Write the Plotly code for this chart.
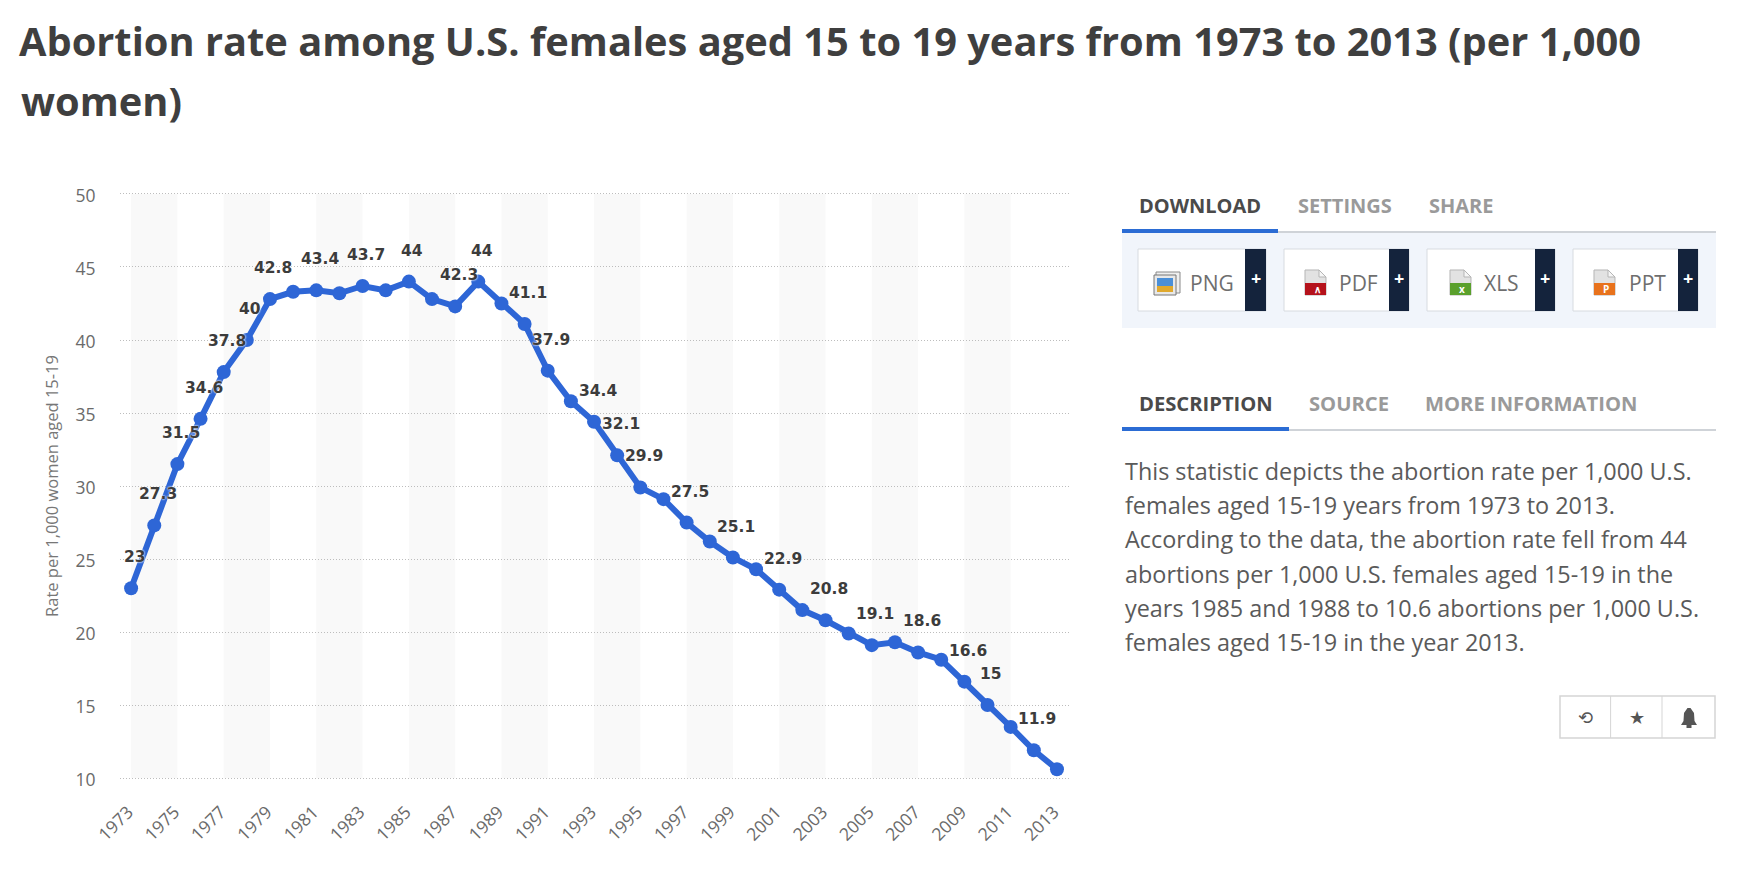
import plotly.graph_objects as go

# ---------- data ----------
years = list(range(1973, 2014))
rates = [23, 27.3, 31.5, 34.6, 37.8, 40, 42.8, 43.3, 43.4, 43.2,
         43.7, 43.4, 44, 42.8, 42.3, 44, 42.5, 41.1, 37.9, 35.8,
         34.4, 32.1, 29.9, 29.1, 27.5, 26.2, 25.1, 24.3, 22.9, 21.5,
         20.8, 19.9, 19.1, 19.3, 18.6, 18.1, 16.6, 15, 13.5, 11.9, 10.6]
labelled_years = [1973, 1974, 1975, 1976, 1977, 1978, 1979, 1981, 1983, 1985,
                  1987, 1988, 1990, 1991, 1993, 1994, 1995, 1997, 1999, 2001,
                  2003, 2005, 2007, 2009, 2010, 2012]
band_starts = list(range(1973, 2013, 4))

title_line1 = "Abortion rate among U.S. females aged 15 to 19 years from 1973 to 2013 (per 1,000"
title_line2 = "women)"
y_title = "Rate per 1,000 women aged 15-19"
description = [
    "This statistic depicts the abortion rate per 1,000 U.S.",
    "females aged 15-19 years from 1973 to 2013.",
    "According to the data, the abortion rate fell from 44",
    "abortions per 1,000 U.S. females aged 15-19 in the",
    "years 1985 and 1988 to 10.6 abortions per 1,000 U.S.",
    "females aged 15-19 in the year 2013.",
]

# ---------- page geometry ----------
W, H = 1744, 890
FONT = "Open Sans"
BLUE = "#2e66d6"


def px(x):
    return x / W


def py(y):
    return 1 - y / H


annotations = []
shapes = []


def text(x, y, s, size, color, bold=False, anchor="left", family=FONT):
    annotations.append(dict(
        xref="paper", yref="paper", x=px(x), y=py(y), text=f"<b>{s}</b>" if bold else s,
        showarrow=False, xanchor=anchor, yanchor="middle",
        font=dict(family=family, size=size, color=color)))


def rect(x0, y0, x1, y1, fill, line=None, width=1):
    shapes.append(dict(type="rect", xref="paper", yref="paper", x0=px(x0), x1=px(x1),
                       y0=py(y0), y1=py(y1), fillcolor=fill,
                       line=dict(color=line or fill, width=width if line else 0)))


def poly(points, fill, line=None):
    d = "M " + " L ".join(f"{px(a):.5f},{py(b):.5f}" for a, b in points) + " Z"
    shapes.append(dict(type="path", xref="paper", yref="paper", path=d, fillcolor=fill,
                       line=dict(color=line or fill, width=1 if line else 0)))


# alternating plot bands
for start in band_starts:
    shapes.append(dict(type="rect", xref="x", yref="paper", x0=start, x1=start + 2,
                       y0=py(778), y1=py(194), fillcolor="#f9f9f9",
                       line=dict(width=0), layer="below"))

# value labels
for yr in labelled_years:
    v = rates[years.index(yr)]
    annotations.append(dict(
        x=yr, y=v, xref="x", yref="y", text=f"<b>{v:g}</b>", showarrow=False,
        xshift=3.5, yshift=31, xanchor="center", yanchor="middle",
        font=dict(family="DejaVu Sans", size=15.5, color="#3c3c3c",
                  shadow="0px 0px 2px #fff, 0px 0px 2px #fff")))

# title second line
text(19, 101, title_line2, 39.8, "#3f3f3f", bold=True)

# download tabs
for s, x, c in [("DOWNLOAD", 1137, "#4a4a4a"), ("SETTINGS", 1296, "#9a9a9a"), ("SHARE", 1427, "#9a9a9a")]:
    text(x, 205, s, 20, c, bold=True)
rect(1122, 231, 1716, 233, "#cfd3d8")
rect(1122, 229, 1278, 233, "#2b6cd4")
rect(1122, 233, 1716, 328, "#f1f5fb")

# download buttons
buttons = [("PNG", 1138, 1245, 1266, "#e0a92e", 16), ("PDF", 1284, 1389, 1409, "#b5121b", 21),
           ("XLS", 1427, 1535, 1555, "#5aa02c", 23), ("PPT", 1573, 1678, 1698, "#e8721c", 21)]
for name, x0, xm, x1, col, icon_dx in buttons:
    rect(x0, 249, x1, 311, "#ffffff", "#d7dbe0", 1)
    rect(xm, 249, x1, 311, "#14233c")
    text(xm + (x1 - xm) / 2, 278, "+", 18, "#ffffff", bold=True, anchor="center")
    text(x0 + 74, 283, name, 21, "#6e6e6e", anchor="center")
    ix = x0 + icon_dx
    if name == "PNG":
        rect(ix + 2, 272, ix + 26, 293, "#efefef", "#8a8a8a", 1)
        rect(ix, 275, ix + 22, 295, "#e8e8e8", "#777777", 1)
        rect(ix + 3, 278, ix + 19, 286, "#4a8fd8")
        rect(ix + 3, 286, ix + 19, 292, col)
    else:
        poly([(ix, 270), (ix + 14, 270), (ix + 21, 277), (ix + 21, 295), (ix, 295)], "#e2e2e2", "#b5b5b5")
        rect(ix, 283, ix + 21, 295, col)
        poly([(ix + 14, 270), (ix + 21, 277), (ix + 14, 277)], "#f6f6f6", "#b5b5b5")
        glyph = {"PDF": "\u2227", "XLS": "x", "PPT": "P"}[name]
        text(ix + 12, 289.5, glyph, 10, "#ffffff", bold=True, anchor="center")

# description tabs
for s, x, c in [("DESCRIPTION", 1137, "#4a4a4a"), ("SOURCE", 1307, "#9a9a9a"), ("MORE INFORMATION", 1423, "#9a9a9a")]:
    text(x, 403, s, 20.2, c, bold=True)
rect(1122, 429, 1716, 431, "#cfd3d8")
rect(1122, 427, 1289, 431, "#2b6cd4")

# description paragraph
for i, line in enumerate(description):
    text(1123, 471 + i * 34.2, line, 23.4, "#5a5a5a")

# bottom-right icon group
shapes.append(dict(type="rect", xref="paper", yref="paper", x0=px(1560), x1=px(1715), y0=py(696), y1=py(738),
                   fillcolor="#ffffff", line=dict(color="#d5d5d5", width=1.5)))
for x in (1610.6, 1662):
    rect(x - 0.5, 696, x + 0.5, 738, "#d5d5d5")
text(1585, 717, "\u27f2", 18, "#555555", anchor="center", family="DejaVu Sans")
text(1637, 717, "\u2605", 18, "#555555", anchor="center", family="DejaVu Sans")
bx = 1689
poly([(bx - 1.5, 708), (bx + 1.5, 708), (bx + 5, 713), (bx + 5.5, 721), (bx + 8, 725), (bx - 8, 725),
      (bx - 5.5, 721), (bx - 5, 713)], "#555555")
rect(bx - 2.5, 725, bx + 2.5, 728, "#555555")

# ---------- figure ----------
fig = go.Figure(go.Scatter(
    x=years, y=rates, mode="lines+markers",
    line=dict(color=BLUE, width=6),
    marker=dict(color=BLUE, size=14),
    hoverinfo="x+y", cliponaxis=False, showlegend=False))

fig.update_layout(
    width=W, height=H, autosize=False,
    margin=dict(l=0, r=0, t=0, b=0),
    paper_bgcolor="#ffffff", plot_bgcolor="rgba(0,0,0,0)",
    title=dict(text=f"<b>{title_line1}</b>", x=px(19), xanchor="left", xref="paper",
               y=py(42), yanchor="middle", yref="paper", automargin=False,
               font=dict(family=FONT, size=39.8, color="#3f3f3f")),
    font=dict(family=FONT),
    shapes=shapes, annotations=annotations,
    xaxis=dict(domain=[px(120), px(1069)], range=[1972.52, 2013.52], tick0=1973, dtick=2,
               tickangle=-45, showgrid=False, zeroline=False, showline=False,
               ticks="outside", ticklen=13, tickcolor="rgba(0,0,0,0)", automargin=False,
               ticklabelshift=-3,
               tickfont=dict(family=FONT, size=17.5, color="#6a6a6a")),
    yaxis=dict(domain=[py(781), py(191)], range=[9.795, 50.205], dtick=5, tick0=10,
               showgrid=True, gridcolor="#bdbdbd", griddash="1px,2px", gridwidth=1,
               zeroline=False, showline=False, automargin=False,
               ticks="outside", ticklen=20, tickcolor="rgba(0,0,0,0)", ticklabelshift=2,
               tickfont=dict(family=FONT, size=17.5, color="#6a6a6a"),
               title=dict(text=y_title, standoff=12,
                          font=dict(family=FONT, size=16.5, color="#777777"))),
)

fig.write_html("out.html", config={"displayModeBar": False},
               post_script="document.body.style.margin='0';")
